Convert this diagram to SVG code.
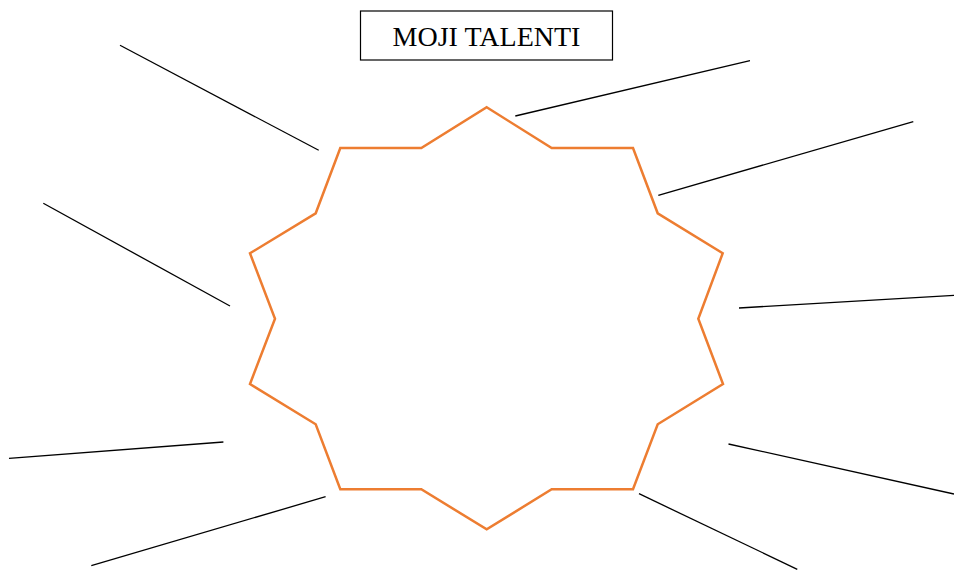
<svg xmlns="http://www.w3.org/2000/svg" width="954" height="570" viewBox="0 0 954 570">
<style>
.ln{stroke:#000;stroke-width:1.3;fill:none}
.star{fill:#fff;stroke:#ED7D31;stroke-width:2.5;stroke-linejoin:miter}
.title{font-family:"Liberation Serif","Times New Roman",serif;font-size:28px;fill:#000}
</style>
<rect width="954" height="570" fill="#fff"/>
<g id="title">
<rect x="360.5" y="11" width="252" height="49" fill="#fff" stroke="#000" stroke-width="1.2"/>
<text class="title" x="486.5" y="45.7" text-anchor="middle">MOJI TALENTI</text>
</g>
<g id="star">
<polygon class="star" points="486.7,107.3 551.7,148 633,148 657.7,213.3 722.7,253.3 698.3,318.7 723,384 657.7,424.3 633,489.3 551.7,489.3 486.7,529.3 421.3,489.3 340.3,489.3 315.7,424.3 250,384 275,318.7 250,253.3 315.7,213.3 340.3,148 421.3,148"/>
</g>
<g id="connectors">
<line class="ln" x1="120" y1="45.3" x2="318.7" y2="150.3"/>
<line class="ln" x1="43.3" y1="203.3" x2="230" y2="306"/>
<line class="ln" x1="515.3" y1="116" x2="750" y2="60.7"/>
<line class="ln" x1="658.3" y1="195.3" x2="913.3" y2="121.7"/>
<line class="ln" x1="739" y1="308" x2="954" y2="295.3"/>
<line class="ln" x1="9" y1="458.3" x2="223.4" y2="442"/>
<line class="ln" x1="91.3" y1="565.7" x2="325.6" y2="496.7"/>
<line class="ln" x1="728.5" y1="444" x2="954" y2="494"/>
<line class="ln" x1="639" y1="493.7" x2="797.3" y2="569.3"/>
</g>
</svg>
